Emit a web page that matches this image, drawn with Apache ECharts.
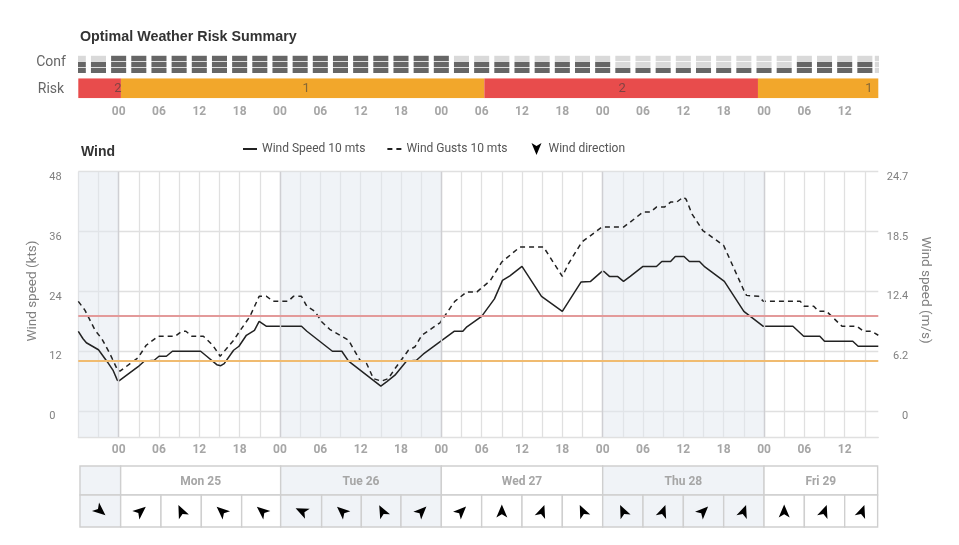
<!DOCTYPE html>
<html>
<head>
<meta charset="utf-8">
<style>html,body{margin:0;padding:0;background:#fff}#container{width:959px;height:545px}</style>
<script src="https://cdn.jsdelivr.net/npm/echarts@6/dist/echarts.min.js"></script>
</head>
<body>
<div id="container"></div>
<script>
// hours are counted from Mon 25 00:00
let hourMin = -6, hourMax = 113;

// confidence strip: dark rows counted from the bottom, one column each 3h
let confHours = [-6,-3,0,3,6,9,12,15,18,21,24,27,30,33,36,39,42,45,48,51,54,57,60,63,66,69,72,75,78,81,84,87,90,93,96,99,102,105,108,111,113.6];
let confLevels = [2,2,3,3,3,3,3,3,3,3,3,3,3,3,3,3,3,3,3,2,2,2,2,2,2,2,2,1,1,1,1,1,1,1,1,1,2,2,2,2,0];

// risk bar
let riskStart = [-6, 0.34, 54.4, 95.1];
let riskEnd = [0.34, 54.4, 95.1, 113];
let riskLevel = [2, 1, 2, 1];
let riskLabelHour = [-0.1, 27.9, 74.9, 111.6];

// wind speed, kts
let speedHours = [-6,-5.3,-4.8,-3,-1.7,-0.8,-0.2,0.1,2.9,3.8,5.3,6,7.1,8,12.2,13.1,14.6,15.2,15.7,17.1,17.9,19,20.2,20.9,21.1,22,27.2,28,31.8,33.2,34.2,39,39.9,41.1,42.8,44.3,45.3,49.9,51.2,51.8,54,55.9,57.1,58.2,60,60.2,62.9,66,66.2,68.8,70.2,71.9,72.2,73,74.2,75.1,76.1,78,80,80.8,82.1,82.8,84.1,84.9,86.4,87.2,90.1,93,95.9,100.3,101.9,104.3,105,109.2,110,113];
let speedKts = [16,14.5,13.7,12.3,9.9,8.1,6.2,6.1,8.9,10,10.2,11,11,12,12,11,9.3,9.1,9.5,12.2,13,15.2,16.2,18,18,17,17,16,12,12,10,5,5.9,7.2,10,10.2,11.4,16,16,16.9,19,22.5,26.2,27.1,29,29,23,20,20.2,25.9,26,28,28,27,27,26,27,29,29,30,30,31,31,30,30,28.9,26,20,17,17,15,15,14,14,13,13];

// wind gusts, kts
let gustHours = [-6,-5,-3.5,-2.5,-1.3,-0.15,0.2,1.7,2.9,4.1,5.9,8.4,9.4,10,10.9,12.6,14,15.1,17.1,18.1,19.5,20.9,22,23,25.2,26,27.2,28,29.2,30.2,31.4,34.2,35.9,36.9,37.9,39.1,40.1,41.1,43.1,44.1,45.1,47.8,50,51.8,53.3,55.3,57,59.7,63.2,66,66.9,68.9,71.9,75.1,76.1,78,79.1,80,81.2,82.1,83,84,84.4,85.3,86.9,90,93,93.4,95.2,95.9,101.4,102,103.4,104.1,105.3,107.6,109.8,110.8,112,113];
let gustKts = [22,20.2,16.2,14.5,11.5,8.2,8,9.5,10.7,13.2,15,15,16,16,15,15,13.2,11,14.2,16.2,18.9,23,23,22,22,23,23,21,20,17.9,16.4,14.2,10.2,9.5,6.5,6,6.5,8.5,12.2,12.9,15.2,17.7,22,23.9,23.9,26.2,29.9,32.9,32.9,27,29.5,33.9,36.9,36.9,37.9,39.9,39.9,40.9,40.9,41.9,41.9,42.9,42.5,39.5,36.2,33.2,24.2,23.2,23,22,22,21,21,20,20,17,17,16,16,15.2];

let thresholdKts = [19.05, 10.05];
let thresholdColors = ['#e39a9a', '#f0bb70'];
let shadedBands = [[-6, 0], [24, 48], [72, 96]];
let midnightHours = [0, 24, 48, 72, 96];

let ktsTicks = [0, 12, 24, 36, 48];
let msTicks = [0, 6.2, 12.4, 18.5, 24.7];

// table under the chart
let dayStart = [-5.75, 0.3, 24.1, 48, 72, 96];
let dayEnd = [0.3, 24.1, 48, 72, 96, 112.9];
let dayNames = ['', 'Mon 25', 'Tue 26', 'Wed 27', 'Thu 28', 'Fri 29'];
let dayShaded = [1, 0, 1, 0, 1, 0];
let cellStart = [-5.75,0.3,6.3,12.3,18.3,24.1,30.2,36.1,42,48,54,60,66,72,78,84,90,96,102,108];
let cellEnd = [0.3,6.3,12.3,18.3,24.1,30.2,36.1,42,48,54,60,66,72,78,84,90,96,102,108,112.9];
let cellShaded = [1,0,0,0,0,1,1,1,1,0,0,0,0,1,1,1,1,0,0,0];
let arrowHours = [-2.7,3.3,9.3,15.3,21.3,27.2,33.2,39.2,45.1,51,57,63,69,75,81,87,93,99,105,110.6];
let arrowDeg = [130,50,-25,-48,-50,-65,-48,-27,45,45,0,20,-25,-25,20,45,20,0,20,20];

let arrowUp = 'path://M5,0 L10,12 L5,9 L0,12 Z';
let arrowDown = 'path://M5,12 L10,0 L5,3 L0,0 Z';

let font = 'Roboto';
let gridColor = '#e0e0e0';
let shadeColor = '#f0f3f7';

let dom = document.getElementById('container');
let myChart = echarts.init(dom);

function hourLabel(v) {
    if (v < 0 || v % 6 !== 0) return '';
    let h = v % 24;
    return (h < 10 ? '0' : '') + h;
}

function hiddenX(gridIndex) {
    return {
        gridIndex: gridIndex, type: 'value', min: hourMin, max: hourMax,
        axisLine: {show: false}, axisTick: {show: false}, axisLabel: {show: false}, splitLine: {show: false}
    };
}
function hiddenY(gridIndex, max) {
    return {
        gridIndex: gridIndex, type: 'value', min: 0, max: max,
        axisLine: {show: false}, axisTick: {show: false}, axisLabel: {show: false}, splitLine: {show: false}
    };
}
function hourText(margin) {
    return {
        show: true, fontFamily: font, fontSize: 12, fontWeight: 'bold', color: '#a6a6a6',
        showMinLabel: false, showMaxLabel: false, formatter: hourLabel, margin: margin
    };
}

function tableCell(params, api) {
    let a = api.coord([api.value(0), 1]);
    let b = api.coord([api.value(1), 0]);
    let items = [{
        type: 'rect',
        shape: {x: a[0], y: a[1], width: b[0] - a[0], height: b[1] - a[1]},
        style: {fill: api.value(2) ? shadeColor : '#fff', stroke: '#cfcfcf', lineWidth: 1.4}
    }];
    let name = dayNames[params.dataIndex];
    if (params.seriesName === 'days' && name) {
        items.push({
            type: 'text',
            style: {
                x: (a[0] + b[0]) / 2, y: (a[1] + b[1]) / 2 + 1.5, text: name, align: 'center', verticalAlign: 'middle',
                fill: '#a6a6a6', font: 'bold 12px ' + font
            }
        });
    }
    return {type: 'group', children: items};
}

let legendText = {fontFamily: font, fontSize: 12, color: '#555'};

let option = {
    animation: false,
    backgroundColor: '#fff',
    textStyle: {fontFamily: font},
    graphic: [
        {type: 'text', left: 80, top: 30, style: {text: 'Optimal Weather Risk Summary', font: 'bold 14.3px "Liberation Sans"', fill: '#333'}},
        {type: 'text', left: 81, top: 145, style: {text: 'Wind', font: 'bold 14px "Liberation Sans"', fill: '#333'}},
        {type: 'text', x: 51, y: 62, style: {text: 'Conf', font: '14px ' + font, fill: '#666', align: 'center', verticalAlign: 'middle'}},
        {type: 'text', x: 51, y: 89, style: {text: 'Risk', font: '14px ' + font, fill: '#666', align: 'center', verticalAlign: 'middle'}},
        {type: 'text', x: 33, y: 291, rotation: Math.PI / 2, style: {text: 'Wind speed (kts)', font: '13.5px ' + font, fill: '#808080', align: 'center', verticalAlign: 'middle'}},
        {type: 'text', x: 925, y: 290, rotation: -Math.PI / 2, style: {text: 'Wind speed (m/s)', font: '13.5px ' + font, fill: '#808080', align: 'center', verticalAlign: 'middle'}}
    ],
    legend: [
        {
            left: 237, top: 138, itemWidth: 14, itemHeight: 12, itemGap: 21, textStyle: legendText,
            itemStyle: {color: 'transparent', borderWidth: 0},
            data: ['Wind Speed 10 mts', 'Wind Gusts 10 mts']
        },
        {
            left: 526.5, top: 138, itemWidth: 14, itemHeight: 12, textStyle: legendText,
            data: [{name: 'Wind direction', icon: arrowDown}]
        }
    ],
    grid: [
        {left: 78.3, width: 800, top: 55, height: 18},
        {left: 78.3, width: 800, top: 78.3, height: 20},
        {left: 78.3, width: 800, top: 171.7, height: 265.3},
        {left: 78.3, width: 800, top: 466, height: 29},
        {left: 78.3, width: 800, top: 495, height: 32}
    ],
    xAxis: [
        hiddenX(0),
        {
            gridIndex: 1, type: 'value', min: hourMin, max: hourMax, interval: 6,
            axisLine: {show: false}, axisTick: {show: false}, splitLine: {show: false},
            axisLabel: hourText(8)
        },
        {
            gridIndex: 2, type: 'value', min: hourMin, max: hourMax, interval: 3,
            axisLine: {show: true, onZero: false, lineStyle: {color: gridColor, width: 1.3}},
            axisTick: {show: false},
            axisLabel: hourText(7),
            splitLine: {show: true, showMaxLine: false, lineStyle: {color: gridColor, width: 1.3}}
        },
        hiddenX(3),
        hiddenX(4)
    ],
    yAxis: [
        hiddenY(0, 3),
        hiddenY(1, 1),
        {
            gridIndex: 2, type: 'value', min: -5.2, max: 48,
            axisLine: {show: false},
            axisTick: {show: false, customValues: ktsTicks},
            axisLabel: {
                customValues: ktsTicks, align: 'left', verticalAlign: 'top', margin: 29,
                fontFamily: font, fontSize: 11, color: '#808080'
            },
            splitLine: {show: true, lineStyle: {color: gridColor, width: 1.3}}
        },
        {
            gridIndex: 2, type: 'value', position: 'right', min: -2.675, max: 24.7,
            axisLine: {show: false},
            axisTick: {show: false, customValues: msTicks},
            axisLabel: {
                customValues: msTicks, align: 'right', verticalAlign: 'top', margin: 30,
                fontFamily: font, fontSize: 11, color: '#808080'
            },
            splitLine: {show: false}
        },
        hiddenY(3, 1),
        hiddenY(4, 1)
    ],
    series: [
        {
            name: 'conf', type: 'custom', xAxisIndex: 0, yAxisIndex: 0, clip: true,
            data: confHours.flatMap((h, i) => [0, 1, 2].map(row => [h, row, row < confLevels[i] ? 1 : 0])),
            encode: {x: 0, y: 1},
            renderItem: function (params, api) {
                let a = api.coord([api.value(0) - 1.12, api.value(1) + 0.87]);
                let b = api.coord([api.value(0) + 1.12, api.value(1)]);
                return {
                    type: 'rect',
                    shape: {x: a[0], y: a[1], width: b[0] - a[0], height: b[1] - a[1]},
                    style: {fill: api.value(2) ? '#666666' : '#d9d9d9'}
                };
            }
        },
        {
            name: 'risk', type: 'custom', xAxisIndex: 1, yAxisIndex: 1, clip: true,
            data: riskStart.map((s, i) => [s, riskEnd[i], riskLevel[i], riskLabelHour[i]]),
            encode: {x: [0, 1]},
            renderItem: function (params, api) {
                let a = api.coord([api.value(0), 1]);
                let b = api.coord([api.value(1), 0]);
                let t = api.coord([api.value(3), 0.5]);
                return {
                    type: 'group',
                    children: [
                        {
                            type: 'rect',
                            shape: {x: a[0], y: a[1], width: b[0] - a[0], height: b[1] - a[1]},
                            style: {fill: api.value(2) === 2 ? '#e84c4c' : '#f2a72b'}
                        },
                        {
                            type: 'text', z2: 10,
                            style: {
                                x: t[0], y: t[1], text: String(api.value(2)), align: 'center', verticalAlign: 'middle',
                                fill: 'rgba(60,60,60,0.6)', font: '13px ' + font
                            }
                        }
                    ]
                };
            }
        },
        {
            // shaded days, midnight lines and risk thresholds
            name: 'background', type: 'line', xAxisIndex: 2, yAxisIndex: 2, z: 1, silent: true,
            data: [],
            markArea: {
                silent: true,
                itemStyle: {color: 'rgba(225,232,240,0.5)'},
                data: shadedBands.map(b => [{xAxis: b[0]}, {xAxis: b[1]}])
            },
            markLine: {
                silent: true, symbol: 'none', animation: false, label: {show: false},
                data: midnightHours.map(h => ({xAxis: h, lineStyle: {color: '#cfcfd3', width: 1.4, type: 'solid'}}))
                    .concat(thresholdKts.map((v, i) => ({yAxis: v, lineStyle: {color: thresholdColors[i], width: 2, type: 'solid'}})))
            }
        },
        {
            name: 'Wind Speed 10 mts', type: 'line', xAxisIndex: 2, yAxisIndex: 2, z: 3, symbol: 'none',
            lineStyle: {color: '#222', width: 1.5}, itemStyle: {color: '#222'},
            data: speedHours.map((h, i) => [h, speedKts[i]])
        },
        {
            name: 'Wind Gusts 10 mts', type: 'line', xAxisIndex: 2, yAxisIndex: 2, z: 3, symbol: 'none',
            lineStyle: {color: '#222', width: 1.5, type: [5, 4]}, itemStyle: {color: '#222'},
            data: gustHours.map((h, i) => [h, gustKts[i]])
        },
        {
            name: 'days', type: 'custom', xAxisIndex: 3, yAxisIndex: 4, clip: false,
            data: dayStart.map((s, i) => [s, dayEnd[i], dayShaded[i]]),
            encode: {x: [0, 1]},
            renderItem: tableCell
        },
        {
            name: 'cells', type: 'custom', xAxisIndex: 4, yAxisIndex: 5, clip: false,
            data: cellStart.map((s, i) => [s, cellEnd[i], cellShaded[i]]),
            encode: {x: [0, 1]},
            renderItem: tableCell
        },
        {
            name: 'Wind direction', type: 'scatter', xAxisIndex: 4, yAxisIndex: 5, z: 5,
            symbol: arrowUp, symbolSize: [11, 13], itemStyle: {color: '#000', opacity: 1},
            data: arrowHours.map((h, i) => ({value: [h, 0.5], symbolRotate: -arrowDeg[i]}))
        }
    ]
};
myChart.setOption(option, true);
window.onresize = function () {
    myChart.resize();
};
</script>
</body>
</html>
